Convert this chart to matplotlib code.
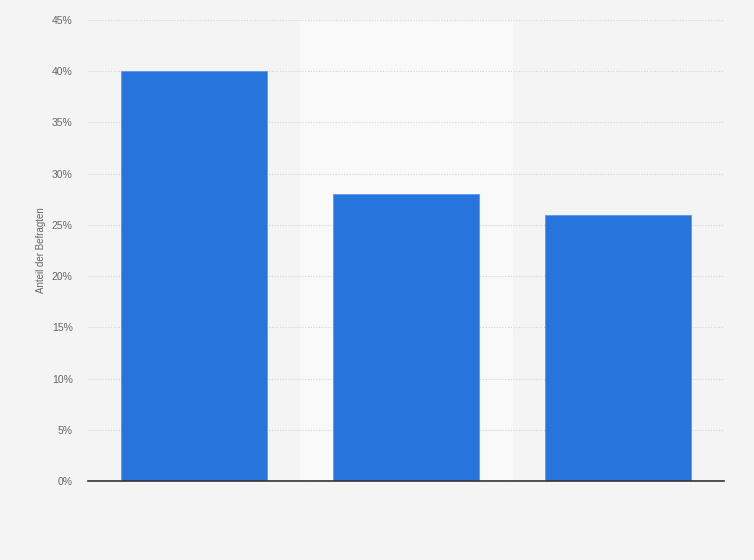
import matplotlib.pyplot as plt
import numpy as np

categories = ['', ' ', '  ']
values = [40, 28, 26]
yticks = [0, 5, 10, 15, 20, 25, 30, 35, 40, 45]
ytick_labels = [f'{v}%' for v in yticks]

plt.rcParams['font.family'] = ['Liberation Sans', 'DejaVu Sans']

fig = plt.figure(figsize=(7.54, 5.6), dpi=100)
fig.patch.set_facecolor('#f4f4f4')
ax = fig.add_axes([88/754, 79/560, 636/754, 461/560])
ax.set_facecolor('#f4f4f4')

x = np.arange(len(values))
# alternating column bands
for i in x:
    if i % 2 == 1:
        ax.axvspan(i - 0.5, i + 0.5, color='#f9f9f9', zorder=0)

ax.bar(x, values, width=0.69, color='#2775dc', edgecolor='#5b98e8', linewidth=0.6, zorder=3)

ax.set_xlim(-0.5, len(values) - 0.5)
ax.set_ylim(0, 45)
ax.set_yticks(yticks)
ax.set_yticklabels(ytick_labels)
ax.set_xticks([])
ax.grid(axis='y', color='#d4d4d4', linestyle=(0, (1, 1.5)), linewidth=0.8, zorder=1)
ax.set_axisbelow(True)

for s in ['top', 'right', 'left']:
    ax.spines[s].set_visible(False)
ax.spines['bottom'].set_color('#333333')
ax.spines['bottom'].set_linewidth(1.2)
ax.spines['bottom'].set_zorder(4)

ax.tick_params(axis='y', length=0, pad=11, labelsize=7.5, labelcolor='#666666')
ax.set_ylabel('Anteil der Befragten', fontsize=7, color='#666666', labelpad=4)

plt.savefig('out.png', dpi=100, facecolor=fig.get_facecolor())
